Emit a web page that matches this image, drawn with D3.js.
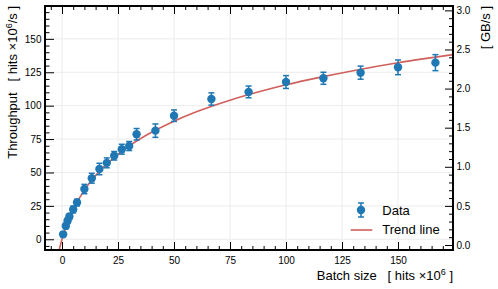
<!DOCTYPE html>
<html>
<head>
<meta charset="utf-8">
<script src="https://cdn.jsdelivr.net/npm/d3@7"></script>
<style>
  body { margin: 0; background: #fff; }
  svg { display: block; font-family: "Liberation Sans", Arial, Helvetica, sans-serif; }
</style>
</head>
<body>
<figure style="margin:0"></figure>
<script>
// batch size [hits x10^6], throughput [hits x10^6/s], error
const batchSize = [0.5, 1.7, 2.5, 3.3, 5, 6.7, 10, 13.3, 16.7, 20, 23.3, 26.7, 30, 33.3,
  41.7, 50, 66.7, 83.3, 100, 116.7, 133.3, 150, 166.7];
const throughput = [3.7, 10.0, 13.8, 17.0, 22.3, 27.5, 37.6, 45.7, 52.6, 57.2, 62.5, 67.4, 69.8, 78.6,
  81.3, 92.5, 105.0, 110.3, 117.7, 120.5, 124.7, 128.7, 132.2];
const throughputErr = [1.5, 2.0, 2.0, 2.0, 2.5, 2.5, 3.5, 3.7, 4.3, 3.7, 3.2, 3.7, 3.4, 4.3,
  5.0, 4.3, 4.6, 4.4, 4.8, 4.5, 4.9, 5.5, 6.0];

// trend line
const trendX = [-1.4, -1, -0.5, 0, 1, 2, 3, 5, 7.5, 10, 15, 20, 25, 30, 40, 50, 60, 75, 90, 100, 115, 130, 150, 175];
const trendY = [-9.0, -6.2, -3.0, 0, 5.4, 10.3, 14.6, 22.2, 30.1, 36.8, 47.7, 56.4, 63.6, 69.9, 80.1,
  88.4, 95.4, 104.1, 111.3, 115.6, 121.2, 126.2, 132.1, 138.3];

const xTicks = [0, 25, 50, 75, 100, 125, 150];
const yTicks = [0, 25, 50, 75, 100, 125, 150];
const gbTicks = [0, 0.5, 1.0, 1.5, 2.0, 2.5, 3.0];

const legendLabels = ["Data", "Trend line"];

const width = 498, height = 289;
const box = { left: 45, right: 453, top: 6, bottom: 250 };
const blue = "#1f77b4", red = "#d0605c";

const svg = d3.select("figure").append("svg")
  .attr("width", width)
  .attr("height", height);

svg.append("rect").attr("width", width).attr("height", height).attr("fill", "#fff");

const xScale = d3.scaleLinear().domain([-7.59, 174.55]).range([box.left, box.right]);
const yScale = d3.scaleLinear().domain([-8.03, 174.6]).range([box.bottom, box.top]);
const gbScale = d3.scaleLinear().domain([-0.064, 3.056]).range([box.bottom, box.top]);

// minor ticks helper
function minors(scale, step, majors) {
  const d = scale.domain();
  const out = [];
  for (let v = Math.ceil(d[0] / step) * step; v <= d[1]; v += step) {
    const r = Math.round(v * 1000) / 1000;
    if (!majors.some(m => Math.abs(m - r) < 1e-6)) out.push(r);
  }
  return out;
}

// grid
const grid = svg.append("g").attr("stroke", "#ececec").attr("stroke-width", 1);
grid.selectAll(".gx").data(xTicks).enter().append("line")
  .attr("x1", d => xScale(d)).attr("x2", d => xScale(d))
  .attr("y1", box.top).attr("y2", box.bottom);
grid.selectAll(".gy").data(yTicks).enter().append("line")
  .attr("x1", box.left).attr("x2", box.right)
  .attr("y1", d => yScale(d)).attr("y2", d => yScale(d));

// axes
function styleAxis(g) {
  g.select(".domain").remove();
  g.selectAll(".tick line").attr("stroke", "#000").attr("stroke-width", 1);
  g.selectAll("text").attr("fill", "#000").style("font-size", "10px")
    .style("font-family", "'Liberation Sans', Arial, sans-serif");
}

svg.append("g").attr("transform", "translate(0," + box.bottom + ")")
  .call(d3.axisBottom(xScale).tickValues(xTicks).tickSize(-8).tickPadding(6.4))
  .call(styleAxis);
svg.append("g").attr("transform", "translate(0," + box.bottom + ")")
  .call(d3.axisBottom(xScale).tickValues(minors(xScale, 5, xTicks)).tickSize(-4).tickFormat(""))
  .call(styleAxis);
svg.append("g").attr("transform", "translate(0," + box.top + ")")
  .call(d3.axisTop(xScale).tickValues(xTicks).tickSize(-8).tickFormat(""))
  .call(styleAxis);
svg.append("g").attr("transform", "translate(0," + box.top + ")")
  .call(d3.axisTop(xScale).tickValues(minors(xScale, 5, xTicks)).tickSize(-4).tickFormat(""))
  .call(styleAxis);

svg.append("g").attr("transform", "translate(" + box.left + ",0)")
  .call(d3.axisLeft(yScale).tickValues(yTicks).tickSize(-9).tickPadding(3.5))
  .call(styleAxis);
svg.append("g").attr("transform", "translate(" + box.left + ",0)")
  .call(d3.axisLeft(yScale).tickValues(minors(yScale, 5, yTicks)).tickSize(-4.5).tickFormat(""))
  .call(styleAxis);

svg.append("g").attr("transform", "translate(" + box.right + ",0)")
  .call(d3.axisRight(gbScale).tickValues(gbTicks).tickSize(-8).tickPadding(3.5).tickFormat(d3.format(".1f")))
  .call(styleAxis);
svg.append("g").attr("transform", "translate(" + box.right + ",0)")
  .call(d3.axisRight(gbScale).tickValues(minors(gbScale, 0.1, gbTicks)).tickSize(-4).tickFormat(""))
  .call(styleAxis);

// clip
svg.append("clipPath").attr("id", "plotclip").append("rect")
  .attr("x", box.left).attr("y", box.top)
  .attr("width", box.right - box.left).attr("height", box.bottom - box.top);

// trend line
const trend = trendX.map((x, i) => ({ x: x, y: trendY[i] }));
svg.append("path")
  .datum(trend)
  .attr("clip-path", "url(#plotclip)")
  .attr("fill", "none")
  .attr("stroke", red)
  .attr("stroke-width", 1.6)
  .attr("d", d3.line().x(d => xScale(d.x)).y(d => yScale(d.y)).curve(d3.curveMonotoneX));

// data with error bars
const data = batchSize.map((x, i) => ({ x: x, y: throughput[i], e: throughputErr[i] }));
const pts = svg.append("g").attr("clip-path", "url(#plotclip)")
  .selectAll("g").data(data).enter().append("g");
pts.append("line")
  .attr("x1", d => xScale(d.x)).attr("x2", d => xScale(d.x))
  .attr("y1", d => yScale(d.y - d.e)).attr("y2", d => yScale(d.y + d.e))
  .attr("stroke", blue).attr("stroke-width", 1.5);
pts.selectAll(".cap").data(d => [d.y - d.e, d.y + d.e].map(v => ({ x: d.x, v: v })))
  .enter().append("line")
  .attr("x1", d => xScale(d.x) - 3).attr("x2", d => xScale(d.x) + 3)
  .attr("y1", d => yScale(d.v)).attr("y2", d => yScale(d.v))
  .attr("stroke", blue).attr("stroke-width", 1.5);
pts.append("circle")
  .attr("cx", d => xScale(d.x)).attr("cy", d => yScale(d.y))
  .attr("r", 4.2).attr("fill", blue);

// frame
svg.append("rect")
  .attr("x", box.left).attr("y", box.top)
  .attr("width", box.right - box.left).attr("height", box.bottom - box.top)
  .attr("fill", "none").attr("stroke", "#000").attr("stroke-width", 2);

// axis labels
const xl = svg.append("text")
  .attr("x", box.right).attr("y", 280)
  .attr("text-anchor", "end")
  .style("font-size", "13px").style("white-space", "pre");
xl.append("tspan").text("Batch size   [ hits \u00d710");
xl.append("tspan").attr("dy", -5).style("font-size", "9px").text("6");
xl.append("tspan").attr("dy", 5).text(" ]");

const yl = svg.append("text")
  .attr("transform", "translate(16.8," + box.top + ") rotate(-90)")
  .attr("text-anchor", "end")
  .style("font-size", "13px").style("white-space", "pre");
yl.append("tspan").text("Throughput   [ hits \u00d710");
yl.append("tspan").attr("dy", -5).style("font-size", "9px").text("6");
yl.append("tspan").attr("dy", 5).text("/s ]");

svg.append("text")
  .attr("transform", "translate(489.5," + box.top + ") rotate(-90)")
  .attr("text-anchor", "end")
  .style("font-size", "13px").style("white-space", "pre")
  .text("[ GB/s ]");

// legend
const lg = svg.append("g");
const mx = 361, my = 210;
lg.append("line").attr("x1", mx).attr("x2", mx).attr("y1", my - 7).attr("y2", my + 7)
  .attr("stroke", blue).attr("stroke-width", 1.5);
[my - 7, my + 7].forEach(v => lg.append("line")
  .attr("x1", mx - 3).attr("x2", mx + 3).attr("y1", v).attr("y2", v)
  .attr("stroke", blue).attr("stroke-width", 1.5));
lg.append("circle").attr("cx", mx).attr("cy", my).attr("r", 4.2).attr("fill", blue);
lg.append("line").attr("x1", 350.7).attr("x2", 372.3).attr("y1", 230).attr("y2", 230)
  .attr("stroke", red).attr("stroke-width", 1.6);
lg.selectAll("text").data(legendLabels).enter().append("text")
  .attr("x", 382.3).attr("y", (d, i) => 214.6 + i * 19.3)
  .style("font-size", "13px")
  .text(d => d);
</script>
</body>
</html>
